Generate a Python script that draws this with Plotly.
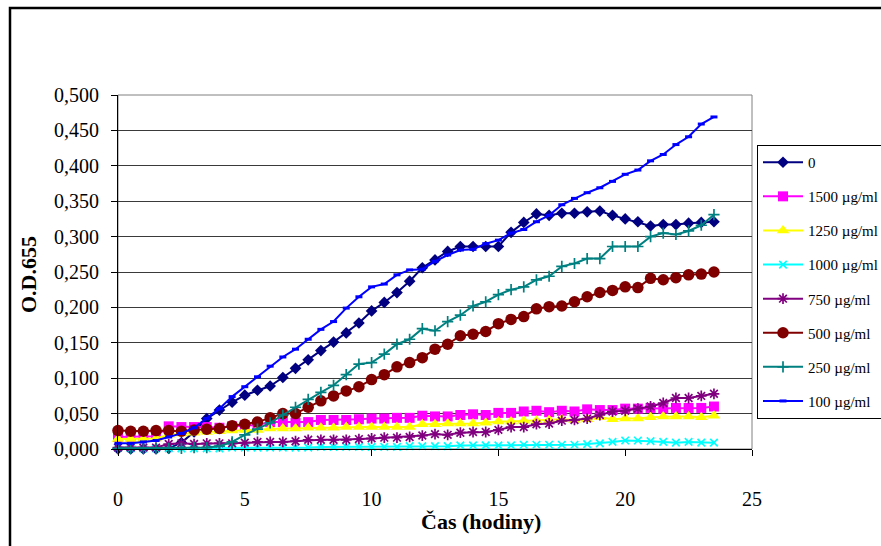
import plotly.graph_objects as go

# Sampling times (hours)
hours = [0, 0.5, 1, 1.5, 2, 2.5, 3, 3.5, 4, 4.5,
         5, 5.5, 6, 6.5, 7, 7.5, 8, 8.5, 9, 9.5,
         10, 10.5, 11, 11.5, 12, 12.5, 13, 13.5, 14, 14.5,
         15, 15.5, 16, 16.5, 17, 17.5, 18, 18.5, 19, 19.5,
         20, 20.5, 21, 21.5, 22, 22.5, 23, 23.5]

# Optical density at 655 nm for each concentration
od_0 = [0.000, 0.000, 0.000, 0.000, 0.001, 0.009, 0.024, 0.043, 0.055, 0.066,
        0.076, 0.083, 0.089, 0.101, 0.114, 0.126, 0.139, 0.151, 0.164, 0.178,
        0.195, 0.207, 0.221, 0.237, 0.256, 0.267, 0.279, 0.286, 0.286, 0.286,
        0.286, 0.306, 0.320, 0.332, 0.330, 0.333, 0.333, 0.335, 0.336, 0.330,
        0.325, 0.321, 0.315, 0.317, 0.317, 0.319, 0.320, 0.321]
od_1500 = [0.017, 0.017, 0.017, 0.018, 0.032, 0.031, 0.031, 0.031, 0.030, 0.032,
           0.033, 0.034, 0.038, 0.038, 0.037, 0.038, 0.041, 0.041, 0.041, 0.042,
           0.043, 0.043, 0.044, 0.044, 0.047, 0.046, 0.046, 0.048, 0.049, 0.048,
           0.051, 0.051, 0.053, 0.054, 0.052, 0.054, 0.053, 0.056, 0.055, 0.055,
           0.057, 0.057, 0.058, 0.057, 0.058, 0.058, 0.058, 0.060]
od_1250 = [0.014, 0.014, 0.014, 0.015, 0.020, 0.022, 0.023, 0.024, 0.025, 0.026,
           0.027, 0.027, 0.029, 0.029, 0.029, 0.030, 0.030, 0.030, 0.031, 0.031,
           0.031, 0.031, 0.031, 0.031, 0.035, 0.035, 0.036, 0.036, 0.036, 0.037,
           0.039, 0.039, 0.040, 0.040, 0.041, 0.042, 0.041, 0.042, 0.045, 0.042,
           0.043, 0.043, 0.045, 0.046, 0.046, 0.046, 0.045, 0.047]
od_1000 = [0.002, 0.001, 0.001, 0.001, 0.001, 0.001, 0.001, 0.001, 0.001, 0.002,
           0.002, 0.002, 0.002, 0.002, 0.002, 0.002, 0.003, 0.003, 0.003, 0.003,
           0.003, 0.003, 0.003, 0.004, 0.004, 0.004, 0.004, 0.005, 0.005, 0.005,
           0.005, 0.005, 0.006, 0.006, 0.006, 0.006, 0.006, 0.007, 0.008, 0.010,
           0.012, 0.012, 0.011, 0.010, 0.009, 0.010, 0.009, 0.009]
od_750 = [0.002, 0.002, 0.002, 0.002, 0.007, 0.008, 0.007, 0.008, 0.008, 0.008,
          0.009, 0.010, 0.010, 0.010, 0.011, 0.013, 0.013, 0.013, 0.013, 0.014,
          0.015, 0.016, 0.016, 0.017, 0.019, 0.021, 0.020, 0.023, 0.024, 0.024,
          0.027, 0.031, 0.031, 0.035, 0.036, 0.040, 0.041, 0.043, 0.048, 0.053,
          0.054, 0.057, 0.060, 0.065, 0.072, 0.072, 0.075, 0.078]
od_500 = [0.026, 0.025, 0.025, 0.026, 0.026, 0.025, 0.027, 0.028, 0.029, 0.033,
          0.035, 0.038, 0.044, 0.050, 0.050, 0.059, 0.068, 0.075, 0.082, 0.088,
          0.098, 0.105, 0.116, 0.122, 0.129, 0.141, 0.148, 0.160, 0.162, 0.166,
          0.177, 0.183, 0.187, 0.198, 0.201, 0.202, 0.208, 0.215, 0.221, 0.224,
          0.229, 0.228, 0.241, 0.239, 0.242, 0.246, 0.247, 0.250]
od_250 = [0.001, 0.001, 0.001, 0.001, 0.001, 0.001, 0.002, 0.002, 0.004, 0.010,
          0.020, 0.028, 0.037, 0.048, 0.059, 0.070, 0.080, 0.090, 0.105, 0.120,
          0.122, 0.134, 0.148, 0.155, 0.170, 0.167, 0.180, 0.189, 0.202, 0.208,
          0.218, 0.225, 0.229, 0.239, 0.244, 0.258, 0.262, 0.269, 0.269, 0.286,
          0.286, 0.286, 0.300, 0.305, 0.303, 0.308, 0.316, 0.331]
od_100 = [0.008, 0.008, 0.010, 0.012, 0.017, 0.022, 0.030, 0.043, 0.057, 0.074,
          0.088, 0.102, 0.117, 0.130, 0.141, 0.155, 0.169, 0.180, 0.199, 0.215,
          0.229, 0.233, 0.246, 0.253, 0.254, 0.265, 0.274, 0.281, 0.282, 0.290,
          0.295, 0.305, 0.310, 0.321, 0.330, 0.345, 0.354, 0.362, 0.369, 0.378,
          0.388, 0.394, 0.407, 0.416, 0.430, 0.441, 0.459, 0.469]

series_names = ["0", "1500 µg/ml", "1250 µg/ml", "1000 µg/ml",
                "750 µg/ml", "500 µg/ml", "250 µg/ml", "100 µg/ml"]
series_values = [od_0, od_1500, od_1250, od_1000, od_750, od_500, od_250, od_100]

x_ticks = [0, 5, 10, 15, 20, 25]
y_ticks = [0.0, 0.05, 0.1, 0.15, 0.2, 0.25, 0.3, 0.35, 0.4, 0.45, 0.5]

# Per-series look: colour, marker symbol, marker size, marker outline width
styles = [
    ("#000080", "diamond", 9, 0),
    ("#FF00FF", "square", 10, 0),
    ("#FFFF00", "triangle-up", 11, 0),
    ("#00FFFF", "x-thin", 7.5, 1.7),
    ("#800080", "asterisk", 9, 1.7),
    ("#800000", "circle", 11.5, 0),
    ("#008080", "cross-thin", 8, 1.7),
    ("#0000FF", "line-ew", 5, 3),
]

W, H = 881, 546
L, R, T, B = 118, 752, 95, 449  # plot area in pixels


def px(x):
    return (x - L) / (R - L)


def py(y):
    return (B - y) / (B - T)


FONT = "Liberation Serif, Times New Roman, serif"

fig = go.Figure()
for i, (name, vals) in enumerate(zip(series_names, series_values)):
    color, symbol, size, lw = styles[i]
    marker = dict(symbol=symbol, size=size, color=color,
                  line=dict(color=color, width=lw))
    fig.add_trace(go.Scatter(
        x=hours, y=vals, name=name, mode="lines+markers",
        line=dict(color=color, width=2),
        marker=marker, cliponaxis=False, legendgroup=name,
    ))

fig.update_layout(
    width=W, height=H,
    margin=dict(l=L, r=W - R, t=T, b=H - B, autoexpand=False),
    paper_bgcolor="white", plot_bgcolor="white",
    separators=", ",
    font=dict(family=FONT, size=20, color="black"),
    showlegend=True,
    legend=dict(
        x=px(757), y=py(145), xanchor="left", yanchor="top",
        bordercolor="black", borderwidth=1, bgcolor="white",
        font=dict(family=FONT, size=15, color="black"),
        tracegroupgap=11.6, traceorder="grouped", itemwidth=40,
    ),
    xaxis=dict(
        range=[0, 25], tickvals=x_ticks, showgrid=False, zeroline=False,
        showline=True, linecolor="black", linewidth=1,
        ticks="outside", ticklen=6, tickcolor="black",
        tickfont=dict(family=FONT, size=20), ticklabelstandoff=26,
    ),
    yaxis=dict(
        range=[0, 0.5], tickvals=y_ticks, tickformat=".3f",
        showgrid=True, gridcolor="#3a3a3a", gridwidth=1, zeroline=False,
        showline=True, linecolor="black", linewidth=1,
        ticks="outside", ticklen=6, tickcolor="black",
        tickfont=dict(family=FONT, size=20), ticklabelstandoff=8,
    ),
    shapes=[
        # plot area frame (top and right edges)
        dict(type="rect", xref="paper", yref="paper", x0=0, x1=1, y0=0, y1=1,
             line=dict(color="#808080", width=1), layer="between"),
        # outer chart frame
        dict(type="rect", xref="paper", yref="paper",
             x0=px(10), x1=px(900), y0=py(570), y1=py(8),
             line=dict(color="black", width=2.5), layer="above"),
    ],
    annotations=[
        dict(text="<b>O.D.655</b>", xref="paper", yref="paper",
             x=px(28), y=py(275), showarrow=False, textangle=-90,
             font=dict(family=FONT, size=22), xanchor="center", yanchor="middle"),
        dict(text="<b>Čas (hodiny)</b>", xref="paper", yref="paper",
             x=px(481), y=py(521), showarrow=False,
             font=dict(family=FONT, size=22), xanchor="center", yanchor="middle"),
    ],
)

fig.write_html("out.html")
